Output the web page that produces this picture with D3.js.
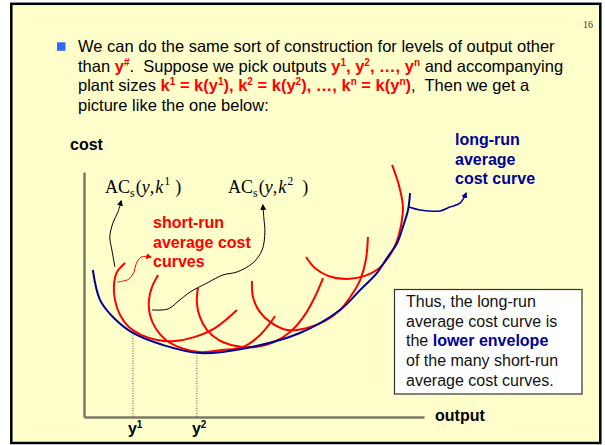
<!DOCTYPE html>
<html>
<head>
<meta charset="utf-8">
<script src="https://cdnjs.cloudflare.com/ajax/libs/d3/7.8.5/d3.min.js"></script>
<style>
  body { margin: 0; background: #fff; }
  svg text { white-space: pre; }
</style>
</head>
<body>
<script>
// long-run average cost curve (output, cost)
var lracOutput = [2.6, 4.7, 8.5, 14.4, 23.2, 34.1, 47.9, 63.5, 75.3, 81.2, 86.2, 89.1, 92.1, 93.8, 95.3, 95.9];
var lracCost   = [60.0, 47.8, 40.8, 34.3, 29.4, 26.1, 28.2, 34.3, 43.7, 51.8, 58.8, 64.9, 71.0, 77.6, 84.5, 91.4];

// short-run average cost curves, one per plant size
var sr1Output = [12.1, 9.7, 8.8, 9.1, 10.6, 13.2, 16.8, 21.5, 26.8, 32.6, 38.5, 45.0];
var sr1Cost   = [62.9, 59.2, 53.9, 47.8, 41.6, 36.7, 33.5, 31.4, 31.0, 32.7, 36.3, 43.7];
var sr2Output = [21.8, 20.0, 19.1, 19.4, 21.2, 24.1, 28.5, 34.1, 40.6, 46.8, 52.1, 56.2];
var sr2Cost   = [58.0, 53.1, 47.8, 41.6, 35.9, 31.4, 28.2, 26.5, 27.3, 28.6, 33.9, 41.2];
var sr3Output = [33.5, 33.2, 34.1, 36.2, 39.7, 44.7, 50.6, 55.9, 60.6, 64.7, 67.9, 70.3];
var sr3Cost   = [52.7, 46.5, 40.8, 35.5, 31.4, 29.0, 28.6, 30.6, 34.7, 41.2, 49.0, 56.7];
var sr4Output = [49.4, 49.7, 51.5, 54.7, 59.7, 65.6, 70.9, 75.3, 78.5, 81.2, 82.9, 83.5];
var sr4Cost   = [55.5, 49.0, 43.3, 38.8, 35.5, 36.3, 39.2, 43.7, 49.4, 55.9, 64.1, 73.5];
var sr5Output = [65.3, 67.9, 71.8, 77.4, 82.6, 86.5, 89.4, 91.8, 93.2, 93.8, 92.6, 90.6];
var sr5Cost   = [65.3, 60.8, 57.6, 56.3, 57.6, 60.4, 64.9, 71.0, 77.9, 85.7, 94.7, 102.9];

// marked outputs y1, y2 and the cost where the curves touch
var tickOutputs = [14.4, 33.2];
var tickNames = ["1", "2"];
var tickCost = [34.3, 26.1];

// annotation arrows (output, cost)
var arrowK1Output = [9.1, 8.2, 7.6, 8.5, 10.0, 10.9];
var arrowK1Cost   = [61.2, 68.2, 73.5, 79.2, 83.7, 88.2];
var arrowK2Output = [20.0, 24.7, 28.2, 31.2, 36.2, 40.9, 45.0, 49.7, 52.4, 53.2, 52.9, 52.6];
var arrowK2Cost   = [43.7, 44.1, 47.8, 51.0, 54.7, 58.0, 59.2, 62.9, 68.2, 75.5, 81.2, 86.5];
var arrowSrOutput = [9.7, 11.5, 13.2, 14.7, 15.3, 16.8, 19.7];
var arrowSrCost   = [55.1, 55.5, 56.3, 59.2, 62.4, 65.3, 65.3];
var arrowLrOutput = [95.6, 98.8, 104.7, 107.6, 110.6, 112.4];
var arrowLrCost   = [85.7, 84.5, 84.1, 85.7, 87.3, 91.4];

var width = 605, height = 445;
var sans = "'Liberation Sans', Arial, sans-serif";
var serif = "'Liberation Serif', 'Times New Roman', serif";
var red = "#ff0000", navy = "#000099";

var svg = d3.select("body").append("svg")
    .attr("width", width)
    .attr("height", height);

var defs = svg.append("defs");
function marker(id, color) {
  defs.append("marker")
      .attr("id", id)
      .attr("viewBox", "0 0 10 10")
      .attr("refX", 8).attr("refY", 5)
      .attr("markerWidth", 6).attr("markerHeight", 6)
      .attr("markerUnits", "userSpaceOnUse")
      .attr("orient", "auto")
    .append("path")
      .attr("d", "M0,0L10,5L0,10z")
      .attr("fill", color);
}
marker("mBlack", "#000");
marker("mRed", red);
marker("mBlue", navy);

// slide frame
svg.append("rect")
    .attr("x", 11.3).attr("y", 3.8)
    .attr("width", 589).attr("height", 439.2)
    .attr("fill", "#ffffcc")
    .attr("stroke", "#000")
    .attr("stroke-width", 2.5);

svg.append("text")
    .attr("x", 583).attr("y", 28)
    .attr("font-family", serif).attr("font-size", 10)
    .attr("fill", "#333")
    .text("16");

// bullet text
svg.append("rect")
    .attr("x", 57).attr("y", 42.3)
    .attr("width", 8.5).attr("height", 8.5)
    .attr("fill", "#3366ff");

function richText(px, py, segs, size) {
  var t = svg.append("text")
      .attr("x", px).attr("y", py)
      .attr("font-family", sans)
      .attr("font-size", size || 16)
      .attr("fill", "#000");
  var up = false;
  segs.forEach(function(s){
    var ts = t.append("tspan").text(s.t);
    if (s.c) ts.attr("fill", s.c);
    if (s.b) ts.attr("font-weight", "bold");
    if (s.sup) {
      ts.attr("font-size", 10);
      if (!up) ts.attr("dy", -6);
      up = true;
    } else if (up) {
      ts.attr("dy", 6);
      up = false;
    }
  });
  return t;
}

var R = function(t){ return {t: t, c: red, b: true}; };
var RS = function(t){ return {t: t, c: red, b: true, sup: true}; };

richText(78, 52, [{t: "We can do the same sort of construction for levels of output other"}], 16.5);
richText(78, 71.7, [{t: "than "}, R("y"), RS("#"), {t: ".  Suppose we pick outputs "},
  R("y"), RS("1"), R(", y"), RS("2"), R(", \u2026, y"), RS("n"), {t: " and accompanying"}], 16.5);
richText(78, 91.4, [{t: "plant sizes "}, R("k"), RS("1"), R(" = k(y"), RS("1"), R("), k"), RS("2"),
  R(" = k(y"), RS("2"), R("), \u2026, k"), RS("n"), R(" = k(y"), RS("n"), R(")"), {t: ",  Then we get a"}], 16.5);
richText(78, 111, [{t: "picture like the one below:"}], 16.5);

// scales and axes
var x = d3.scaleLinear().domain([0, 100]).range([84, 424]);
var y = d3.scaleLinear().domain([0, 100]).range([417, 172]);

var axisColor = "#7a7a6a";
svg.append("g")
    .attr("transform", "translate(0," + y(0) + ")")
    .call(d3.axisBottom(x).tickValues([]).tickSizeOuter(0));
svg.append("g")
    .attr("transform", "translate(" + x(0) + ",0)")
    .call(d3.axisLeft(y).tickValues([]).tickSizeOuter(0));
svg.selectAll(".domain").attr("stroke", axisColor).attr("stroke-width", 2.5);

svg.append("text").attr("x", 70).attr("y", 150)
    .attr("font-family", sans).attr("font-size", 16).attr("font-weight", "bold")
    .text("cost");
svg.append("text").attr("x", 435).attr("y", 421)
    .attr("font-family", sans).attr("font-size", 16).attr("font-weight", "bold")
    .text("output");

// dotted drop lines and y labels
tickOutputs.forEach(function(t, i){
  svg.append("line")
      .attr("x1", x(t)).attr("x2", x(t))
      .attr("y1", y(tickCost[i])).attr("y2", y(0))
      .attr("stroke", "#222").attr("stroke-width", 0.8)
      .attr("stroke-dasharray", "1,1.5");
  var lt = svg.append("text").attr("x", x(t) - 5).attr("y", 434)
      .attr("font-family", sans).attr("font-size", 16).attr("font-weight", "bold");
  lt.append("tspan").text("y");
  lt.append("tspan").attr("font-size", 10).attr("dy", -6).text(tickNames[i]);
});

var line = d3.line()
    .x(function(d){ return x(d[0]); })
    .y(function(d){ return y(d[1]); })
    .curve(d3.curveCatmullRom.alpha(0.5));

// short-run curves
[[sr1Output, sr1Cost], [sr2Output, sr2Cost], [sr3Output, sr3Cost],
 [sr4Output, sr4Cost], [sr5Output, sr5Cost]].forEach(function(s){
  svg.append("path")
      .attr("d", line(d3.zip(s[0], s[1])))
      .attr("fill", "none")
      .attr("stroke", red)
      .attr("stroke-width", 2);
});

// long-run envelope
svg.append("path")
    .attr("d", line(d3.zip(lracOutput, lracCost)))
    .attr("fill", "none")
    .attr("stroke", navy)
    .attr("stroke-width", 2);

// annotation arrows
function arrow(xs, cs, color, mk, w) {
  svg.append("path")
      .attr("d", line(d3.zip(xs, cs)))
      .attr("fill", "none")
      .attr("stroke", color)
      .attr("stroke-width", w)
      .attr("marker-end", "url(#" + mk + ")");
}
arrow(arrowK1Output, arrowK1Cost, "#000", "mBlack", 1);
arrow(arrowK2Output, arrowK2Cost, "#000", "mBlack", 1);
arrow(arrowSrOutput, arrowSrCost, red, "mRed", 1);
arrow(arrowLrOutput, arrowLrCost, navy, "mBlue", 1.5);

// AC_s(y,k) labels in the equation-editor style
function acLabel(bx, by, sup, gap) {
  var t = svg.append("text")
      .attr("x", bx).attr("y", by)
      .attr("font-family", serif)
      .attr("font-size", 18)
      .attr("fill", "#000");
  t.append("tspan").text("AC");
  t.append("tspan").attr("font-size", 12).attr("dy", 4).text("s");
  t.append("tspan").attr("dy", -4).attr("dx", 1).text("(");
  t.append("tspan").attr("font-style", "italic").text("y");
  t.append("tspan").text(",");
  t.append("tspan").attr("font-style", "italic").attr("dx", 1).text("k");
  t.append("tspan").attr("font-size", 12).attr("dy", -8).attr("dx", 1).text(sup);
  t.append("tspan").attr("dy", 8).attr("dx", gap).text(")");
}
acLabel(105, 193, "1", 5);
acLabel(228, 193, "2", 9);

// curve labels
function block(px, py, lines, color) {
  lines.forEach(function(l, i){
    svg.append("text")
        .attr("x", px).attr("y", py + i * 19.7)
        .attr("font-family", sans).attr("font-size", 16).attr("font-weight", "bold")
        .attr("fill", color)
        .text(l);
  });
}
block(153, 228, ["short-run", "average cost", "curves"], red);
block(455, 145, ["long-run", "average", "cost curve"], navy);

// note box
svg.append("rect")
    .attr("x", 394.5).attr("y", 289.5)
    .attr("width", 187.5).attr("height", 104.5)
    .attr("fill", "#fff")
    .attr("stroke", "#333")
    .attr("stroke-width", 1.2);
var boxLines = [
  [{t: "Thus, the long-run"}],
  [{t: "average cost curve is"}],
  [{t: "the "}, {t: "lower envelope", c: navy, b: true}],
  [{t: "of the many short-run"}],
  [{t: "average cost curves."}]
];
boxLines.forEach(function(l, i){
  richText(406, 307 + i * 19.7, l).attr("fill", "#111");
});
</script>
</body>
</html>
